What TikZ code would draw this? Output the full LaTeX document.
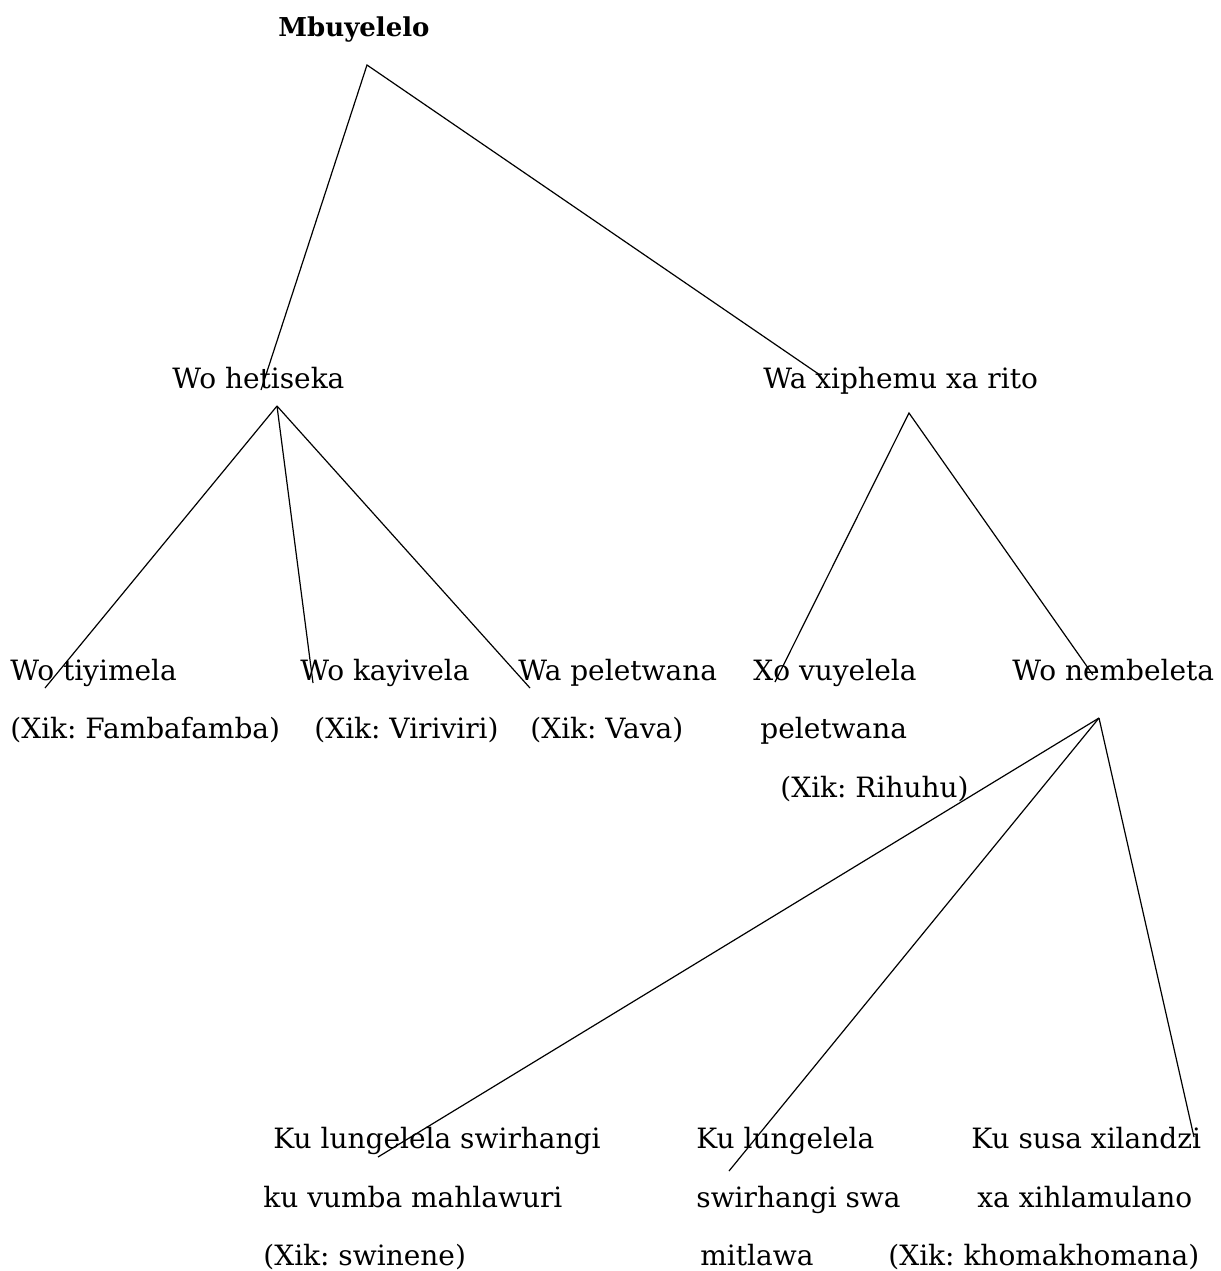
\documentclass[tikz,border=0pt]{standalone}
\usepackage{fontspec}
\setmainfont{DejaVu Serif}
\frenchspacing
\tikzset{
  lbl/.style={anchor=base west,inner sep=0pt,font=\fontsize{14}{16}\selectfont},
  branch/.style={line width=0.6pt}
}
\begin{document}
\begin{tikzpicture}[x=0.5pt,y=-0.5pt]
\useasboundingbox (0,0) rectangle (1221,1271);

\node[lbl,font=\fontsize{13}{15}\selectfont\bfseries] (root) at (278,36) {Mbuyelelo};

\node[lbl] (hetiseka) at (172,388) {Wo hetiseka};
\node[lbl] (xiphemu) at (763,388) {Wa xiphemu xa rito};

\node[lbl] (tiyimela) at (10,680) {Wo tiyimela};
\node[lbl] (kayivela) at (300,680) {Wo kayivela};
\node[lbl] (peletwana) at (518,680) {Wa peletwana};
\node[lbl] (vuyelela) at (753,680) {Xo vuyelela};
\node[lbl] (nembeleta) at (1012,680) {Wo nembeleta};

\node[lbl] (tiyimela2) at (10,738) {(Xik: Fambafamba)};
\node[lbl] (kayivela2) at (314,738) {(Xik: Viriviri)};
\node[lbl] (peletwana2) at (530,738) {(Xik: Vava)};
\node[lbl] (vuyelela2) at (760,738) {peletwana};
\node[lbl] (vuyelela3) at (780,797) {(Xik: Rihuhu)};

\node[lbl] (mahlawuri) at (273,1148) {Ku lungelela swirhangi};
\node[lbl] (mahlawuri2) at (263,1207) {ku vumba mahlawuri};
\node[lbl] (mahlawuri3) at (263,1265) {(Xik: swinene)};
\node[lbl] (mitlawa) at (696,1148) {Ku lungelela};
\node[lbl] (mitlawa2) at (696,1207) {swirhangi swa};
\node[lbl] (mitlawa3) at (700,1265) {mitlawa};
\node[lbl] (xilandzi) at (971,1148) {Ku susa xilandzi};
\node[lbl] (xilandzi2) at (977,1207) {xa xihlamulano};
\node[lbl] (xilandzi3) at (888,1265) {(Xik: khomakhomana)};

% apexes and line ends
\coordinate (root-top) at (367,65);
\coordinate (hetiseka-in) at (261,390);
\coordinate (xiphemu-in) at (820,375);
\coordinate (hetiseka-top) at (277,406);
\coordinate (tiyimela-in) at (45,688);
\coordinate (kayivela-in) at (313,683);
\coordinate (peletwana-in) at (530,688);
\coordinate (xiphemu-top) at (909,413);
\coordinate (vuyelela-in) at (775,682);
\coordinate (nembeleta-in) at (1093,675);
\coordinate (nembeleta-top) at (1099,718);
\coordinate (mahlawuri-in) at (378,1157);
\coordinate (mitlawa-in) at (729,1171);
\coordinate (xilandzi-in) at (1194,1137);

\draw[branch] (hetiseka-in) -- (root-top) -- (xiphemu-in);
\draw[branch] (hetiseka-top) -- (tiyimela-in);
\draw[branch] (hetiseka-top) -- (kayivela-in);
\draw[branch] (hetiseka-top) -- (peletwana-in);
\draw[branch] (vuyelela-in) -- (xiphemu-top) -- (nembeleta-in);
\draw[branch] (nembeleta-top) -- (mahlawuri-in);
\draw[branch] (nembeleta-top) -- (mitlawa-in);
\draw[branch] (nembeleta-top) -- (xilandzi-in);
\end{tikzpicture}
\end{document}
